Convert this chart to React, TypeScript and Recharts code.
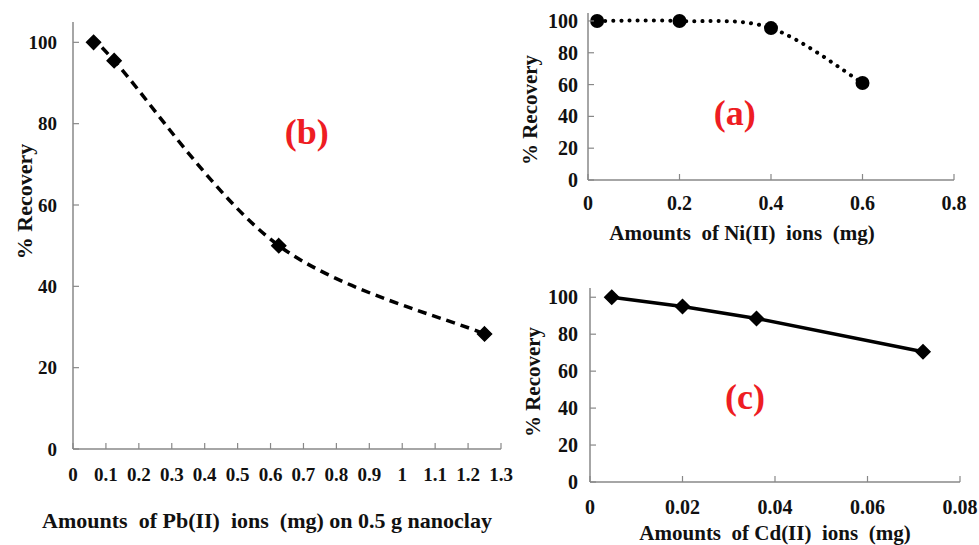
import React from 'react';
import { LineChart, Line, XAxis, YAxis, ReferenceDot, Label } from 'recharts';

// ---------- data ----------
const pbAmounts = [0.0625, 0.125, 0.625, 1.25];
const pbRecovery = [100, 95.5, 50, 28.3];
const niAmounts = [0.02, 0.2, 0.4, 0.6];
const niRecovery = [100, 100, 95.5, 61];
const cdAmounts = [0.0047, 0.02, 0.036, 0.072];
const cdRecovery = [100, 95, 88.5, 70.5];

const pbTicks = [0, 0.1, 0.2, 0.3, 0.4, 0.5, 0.6, 0.7, 0.8, 0.9, 1, 1.1, 1.2, 1.3];
const niTicks = [0, 0.2, 0.4, 0.6, 0.8];
const cdTicks = [0, 0.02, 0.04, 0.06, 0.08];
const recoveryTicks = [0, 20, 40, 60, 80, 100];

const pbTitle = 'Amounts  of Pb(II)  ions  (mg) on 0.5 g nanoclay';
const niTitle = 'Amounts  of Ni(II)  ions  (mg)';
const cdTitle = 'Amounts  of Cd(II)  ions  (mg)';
const yTitle = '% Recovery';

const pbData = pbAmounts.map((x, i) => ({ x, y: pbRecovery[i] }));
const niData = niAmounts.map((x, i) => ({ x, y: niRecovery[i] }));
const cdData = cdAmounts.map((x, i) => ({ x, y: cdRecovery[i] }));

// ---------- styles ----------
const FONT = 'Liberation Serif, DejaVu Serif, serif';
const TEXT = '#111';
const RED = '#EE1D23';
const AXIS = '#888';

// Excel-like smoothing (uniform Catmull-Rom) as a curve factory for Recharts
const excelSmooth = (context: any) => {
  let pts: number[][] = [];
  return {
    areaStart() {},
    areaEnd() {},
    lineStart() { pts = []; },
    point(x: number, y: number) { pts.push([+x, +y]); },
    lineEnd() {
      const n = pts.length;
      if (!n) return;
      context.moveTo(pts[0][0], pts[0][1]);
      for (let i = 0; i < n - 1; i++) {
        const p0 = pts[Math.max(0, i - 1)];
        const p1 = pts[i];
        const p2 = pts[i + 1];
        const p3 = pts[Math.min(n - 1, i + 2)];
        context.bezierCurveTo(
          p1[0] + (p2[0] - p0[0]) / 6, p1[1] + (p2[1] - p0[1]) / 6,
          p2[0] - (p3[0] - p1[0]) / 6, p2[1] - (p3[1] - p1[1]) / 6,
          p2[0], p2[1]
        );
      }
    },
  };
};

const txt = { fontFamily: FONT, fontWeight: 700 as const };

const XTick = (props: any) => {
  const { x, y, payload, gap, fs } = props;
  return (
    <g>
      <line x1={x} y1={y} x2={x} y2={y - 6} stroke={AXIS} strokeWidth={1.2} />
      <text x={x} y={y + gap} textAnchor="middle" dominantBaseline="central"
        style={{ ...txt, fontSize: fs }} fill={TEXT}>{String(payload.value)}</text>
    </g>
  );
};

const YTick = (props: any) => {
  const { x, y, payload, gap, fs } = props;
  return (
    <g>
      <line x1={x} y1={y} x2={x + 6} y2={y} stroke={AXIS} strokeWidth={1.2} />
      <text x={x - gap} y={y} textAnchor="end" dominantBaseline="central"
        style={{ ...txt, fontSize: fs }} fill={TEXT}>{String(payload.value)}</text>
    </g>
  );
};

const XTitle = (text: string, dx: number, dy: number, fs: number) => (p: any) => {
  const vb = p.viewBox;
  return (
    <text x={vb.x + vb.width / 2 + dx} y={vb.y + dy} textAnchor="middle" dominantBaseline="central"
      style={{ ...txt, fontSize: fs, whiteSpace: 'pre' }} fill={TEXT}>{text}</text>
  );
};

const YTitle = (text: string, xpos: number, dy: number, fs: number) => (p: any) => {
  const vb = p.viewBox;
  const cx = xpos;
  const cy = vb.y + vb.height / 2 + dy;
  return (
    <text x={cx} y={cy} textAnchor="middle" dominantBaseline="central" transform={`rotate(-90 ${cx} ${cy})`}
      style={{ ...txt, fontSize: fs }} fill={TEXT}>{text}</text>
  );
};

const RedTag = (text: string) => (p: any) => {
  const vb = p.viewBox;
  return (
    <text x={vb.x + (vb.width || 0) / 2} y={vb.y + (vb.height || 0) / 2} textAnchor="middle" dominantBaseline="central"
      style={{ ...txt, fontSize: 36 }} fill={RED}>{text}</text>
  );
};

const Diamond = (p: any) => {
  const { cx, cy, s } = p;
  if (cx == null || cy == null) return null;
  return <path d={`M${cx},${cy - s}L${cx + s},${cy}L${cx},${cy + s}L${cx - s},${cy}Z`} fill="#000" stroke="#000" strokeWidth={1.5} />;
};

const Dot = (p: any) => {
  const { cx, cy } = p;
  if (cx == null || cy == null) return null;
  return <circle cx={cx} cy={cy} r={7} fill="#000" />;
};

const frameProps = { stroke: '#222', strokeWidth: 1.2 };

export default function App() {
  return (
    <div style={{ position: 'absolute', left: 0, top: 0, width: 979, height: 545, background: '#fff' }}>
      {/* Panel (b) */}
      <div style={{ position: 'absolute', left: 0, top: 0 }}>
        <LineChart width={522} height={545} data={pbData} margin={{ top: 22, right: 21, bottom: 0, left: 0 }}>
          <XAxis dataKey="x" type="number" domain={[0, 1.3]} ticks={pbTicks} interval={0} height={96}
            tickSize={0} tickMargin={0} axisLine={{ stroke: AXIS, strokeWidth: 1.5 }}
            tick={(p: any) => <XTick {...p} gap={25} fs={19} />}>
            <Label content={XTitle(pbTitle, -20, 71, 22)} />
          </XAxis>
          <XAxis xAxisId="top" orientation="top" type="number" domain={[0, 1.3]} height={0}
            tick={false} tickLine={false} axisLine={frameProps} />
          <YAxis type="number" domain={[0, 105]} ticks={recoveryTicks} interval={0} width={73}
            tickSize={0} tickMargin={0} axisLine={{ stroke: AXIS, strokeWidth: 1.5 }}
            tick={(p: any) => <YTick {...p} gap={16} fs={19} />}>
            <Label content={YTitle(yTitle, 24, -34, 22)} />
          </YAxis>
          <YAxis yAxisId="right" orientation="right" type="number" domain={[0, 105]} width={0}
            tick={false} tickLine={false} axisLine={frameProps} />
          <Line dataKey="y" type={excelSmooth as any} stroke="#000" strokeWidth={3.5} strokeDasharray="9 6"
            isAnimationActive={false} dot={(p: any) => <Diamond key={`b${p.index}`} {...p} s={7} />} activeDot={false} />
          <ReferenceDot x={0.71} y={78} r={0} fill="none" stroke="none">
            <Label content={RedTag('(b)')} />
          </ReferenceDot>
        </LineChart>
      </div>

      {/* Panel (a) */}
      <div style={{ position: 'absolute', left: 505, top: 0 }}>
        <LineChart width={474} height={260} data={niData} margin={{ top: 13, right: 25, bottom: 0, left: 0 }}>
          <XAxis dataKey="x" type="number" domain={[0, 0.8]} ticks={niTicks} interval={0} height={80}
            tickSize={0} tickMargin={0} axisLine={{ stroke: AXIS, strokeWidth: 1.5 }}
            tick={(p: any) => <XTick {...p} gap={23} fs={20} />}>
            <Label content={XTitle(niTitle, -29, 53, 21)} />
          </XAxis>
          <XAxis xAxisId="top" orientation="top" type="number" domain={[0, 0.8]} height={0}
            tick={false} tickLine={false} axisLine={{ stroke: '#444', strokeWidth: 1.2 }} />
          <YAxis type="number" domain={[0, 105]} ticks={recoveryTicks} interval={0} width={83}
            tickSize={0} tickMargin={0} axisLine={{ stroke: AXIS, strokeWidth: 1.5 }}
            tick={(p: any) => <YTick {...p} gap={10} fs={20} />}>
            <Label content={YTitle(yTitle, 25, 13.5, 21)} />
          </YAxis>
          <YAxis yAxisId="right" orientation="right" type="number" domain={[0, 105]} width={0}
            tick={false} tickLine={false} axisLine={{ stroke: '#444', strokeWidth: 1.2 }} />
          <Line dataKey="y" type={excelSmooth as any} stroke="#000" strokeWidth={4} strokeDasharray="0.1 8" strokeLinecap="round"
            isAnimationActive={false} dot={(p: any) => <Dot key={`a${p.index}`} {...p} />} activeDot={false} />
          <ReferenceDot x={0.321} y={42.3} r={0} fill="none" stroke="none">
            <Label content={RedTag('(a)')} />
          </ReferenceDot>
        </LineChart>
      </div>

      {/* Panel (c) */}
      <div style={{ position: 'absolute', left: 505, top: 270 }}>
        <LineChart width={474} height={275} data={cdData} margin={{ top: 18, right: 19, bottom: 0, left: 0 }}>
          <XAxis dataKey="x" type="number" domain={[0, 0.08]} ticks={cdTicks} interval={0} height={63}
            tickSize={0} tickMargin={0} axisLine={{ stroke: AXIS, strokeWidth: 1.5 }}
            tick={(p: any) => <XTick {...p} gap={25} fs={20} />}>
            <Label content={XTitle(cdTitle, 0, 51, 21)} />
          </XAxis>
          <XAxis xAxisId="top" orientation="top" type="number" domain={[0, 0.08]} height={0}
            tick={false} tickLine={false} axisLine={{ stroke: '#444', strokeWidth: 1.2 }} />
          <YAxis type="number" domain={[0, 105]} ticks={recoveryTicks} interval={0} width={85}
            tickSize={0} tickMargin={0} axisLine={{ stroke: AXIS, strokeWidth: 1.5 }}
            tick={(p: any) => <YTick {...p} gap={12} fs={20} />}>
            <Label content={YTitle(yTitle, 28, -3, 21)} />
          </YAxis>
          <YAxis yAxisId="right" orientation="right" type="number" domain={[0, 105]} width={0}
            tick={false} tickLine={false} axisLine={{ stroke: '#444', strokeWidth: 1.2 }} />
          <Line dataKey="y" type="linear" stroke="#000" strokeWidth={3.5}
            isAnimationActive={false} dot={(p: any) => <Diamond key={`c${p.index}`} {...p} s={7} />} activeDot={false} />
          <ReferenceDot x={0.0335} y={45.8} r={0} fill="none" stroke="none">
            <Label content={RedTag('(c)')} />
          </ReferenceDot>
        </LineChart>
      </div>
    </div>
  );
}
